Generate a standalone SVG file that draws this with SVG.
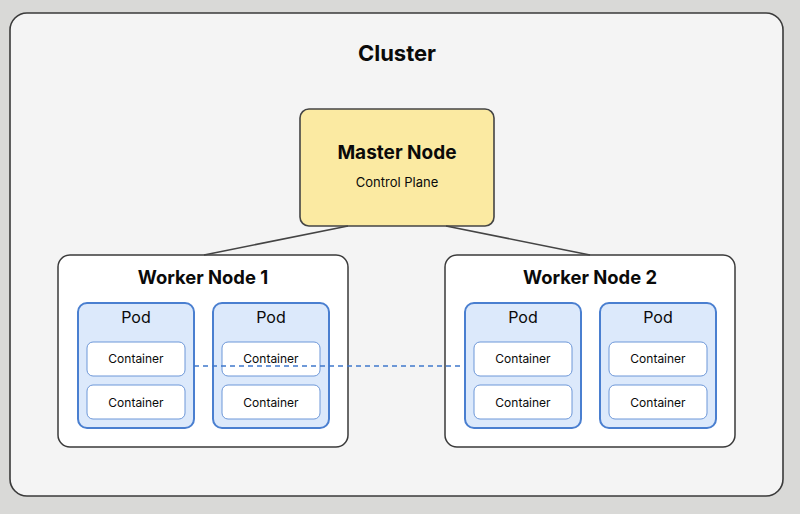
<svg xmlns="http://www.w3.org/2000/svg" width="800" height="514" viewBox="0 0 800 514">
<style>
text{font-family:Inter,"Liberation Sans",sans-serif;fill:#0a0a0a;text-anchor:middle}
.title{font-size:22px;font-weight:700}
.h{font-size:19px;font-weight:700}
.wh{font-size:18.4px;font-weight:700}
.sub{font-size:13px}
.podt{font-size:16px}
.ct{font-size:12px}
.worker{fill:#fff;stroke:#3a3a3a;stroke-width:1.5}
.pod{fill:#dce9fb;stroke:#4a7fd0;stroke-width:2}
.cont{fill:#fff;stroke:#6d97d8;stroke-width:1}
.link{stroke:#444;stroke-width:1.6;fill:none}
.dash{stroke:#3f78cc;stroke-width:1.6;stroke-dasharray:5,4;fill:none}
</style>
<rect width="800" height="514" fill="#d9d9d7"/>
<g id="cluster">
<rect x="10" y="13" width="773" height="483" rx="17" fill="#f4f4f4" stroke="#3a3a3a" stroke-width="1.6"/>
<text class="title" x="397" y="61">Cluster</text>
</g>
<g id="master">
<rect x="300" y="109" width="194" height="117" rx="9" fill="#fbeaa2" stroke="#444" stroke-width="1.6"/>
<text class="h" x="397" y="159">Master Node</text>
<text class="sub" x="397" y="187">Control Plane</text>
</g>
<g id="worker1">
<rect class="worker" x="58" y="255" width="290" height="192" rx="12"/>
<text class="wh" x="203" y="284">Worker Node 1</text>
</g>
<g id="pod1">
<rect class="pod" x="78" y="303" width="116" height="125" rx="9"/>
<text class="podt" x="136" y="323">Pod</text>
<rect class="cont" x="87" y="342" width="98" height="34" rx="6"/>
<text class="ct" x="136" y="363">Container</text>
<rect class="cont" x="87" y="385" width="98" height="34" rx="6"/>
<text class="ct" x="136" y="407">Container</text>
</g>
<g id="pod2">
<rect class="pod" x="213" y="303" width="116" height="125" rx="9"/>
<text class="podt" x="271" y="323">Pod</text>
<rect class="cont" x="222" y="342" width="98" height="34" rx="6"/>
<text class="ct" x="271" y="363">Container</text>
<rect class="cont" x="222" y="385" width="98" height="34" rx="6"/>
<text class="ct" x="271" y="407">Container</text>
</g>
<g id="worker2">
<rect class="worker" x="445" y="255" width="290" height="192" rx="12"/>
<text class="wh" x="590" y="284">Worker Node 2</text>
</g>
<g id="pod3">
<rect class="pod" x="465" y="303" width="116" height="125" rx="9"/>
<text class="podt" x="523" y="323">Pod</text>
<rect class="cont" x="474" y="342" width="98" height="34" rx="6"/>
<text class="ct" x="523" y="363">Container</text>
<rect class="cont" x="474" y="385" width="98" height="34" rx="6"/>
<text class="ct" x="523" y="407">Container</text>
</g>
<g id="pod4">
<rect class="pod" x="600" y="303" width="116" height="125" rx="9"/>
<text class="podt" x="658" y="323">Pod</text>
<rect class="cont" x="609" y="342" width="98" height="34" rx="6"/>
<text class="ct" x="658" y="363">Container</text>
<rect class="cont" x="609" y="385" width="98" height="34" rx="6"/>
<text class="ct" x="658" y="407">Container</text>
</g>
<g id="connectors">
<line class="link" x1="348" y1="226" x2="204" y2="255"/>
<line class="link" x1="446" y1="226" x2="590" y2="255"/>
<line class="dash" x1="194" y1="366" x2="462" y2="366"/>
</g>
</svg>
